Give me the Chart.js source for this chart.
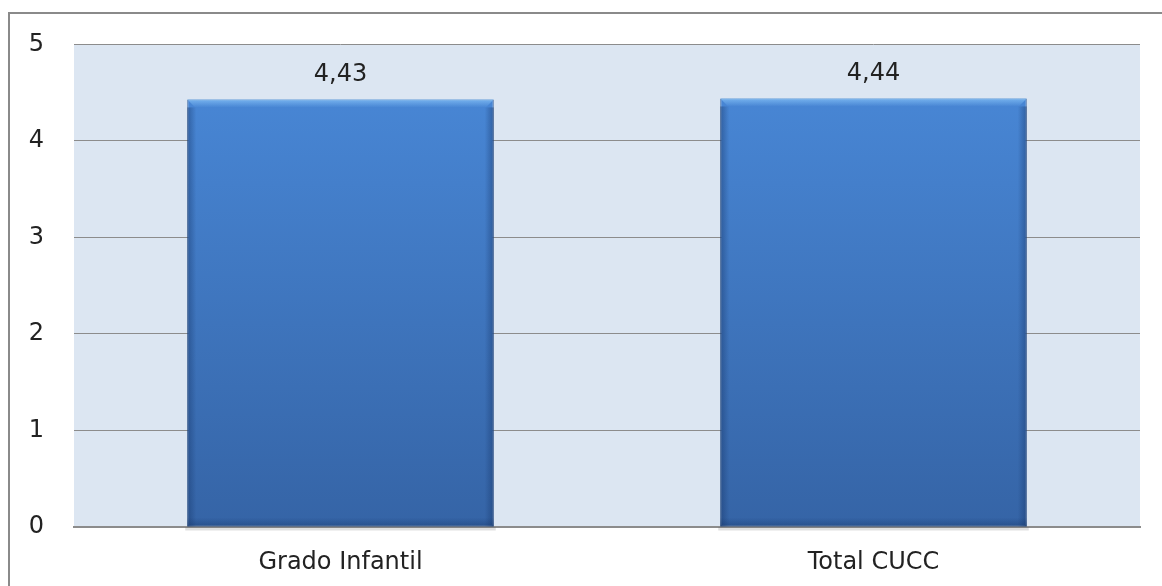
<!DOCTYPE html>
<html>
<head>
<meta charset="utf-8">
<script src="https://cdn.jsdelivr.net/npm/chart.js@4/dist/chart.umd.min.js"></script>
<style>
  html, body { margin: 0; padding: 0; background: #ffffff; }
  #wrap { width: 1162px; height: 586px; }
</style>
</head>
<body>
<div id="wrap"><canvas id="chart"></canvas></div>
<script>
// Data
const categories = ['Grado Infantil', 'Total CUCC'];
const scores = [4.43, 4.44];
const yTicks = [0, 1, 2, 3, 4, 5];

const fmt = v => v.toFixed(2).replace('.', ',');
const FONT = '"DejaVu Sans", sans-serif';

// plot area background + outer frame
const backdrop = {
    id: 'backdrop',
    beforeDraw(chart) {
        const { ctx, chartArea: a } = chart;
        ctx.save();
        ctx.fillStyle = '#dce6f2';
        ctx.fillRect(a.left, a.top, a.right - a.left, a.bottom - a.top);
        ctx.strokeStyle = '#8a8a8a';
        ctx.lineWidth = 2;
        ctx.beginPath();
        ctx.moveTo(9, chart.height);
        ctx.lineTo(9, 13);
        ctx.lineTo(chart.width, 13);
        ctx.stroke();
        ctx.restore();
    }
};

// value labels above bars
const valueLabels = {
    id: 'valueLabels',
    afterDatasetsDraw(chart) {
        const { ctx } = chart;
        const meta = chart.getDatasetMeta(0);
        ctx.save();
        ctx.font = '24px ' + FONT;
        ctx.fillStyle = '#222222';
        ctx.textAlign = 'center';
        ctx.textBaseline = 'alphabetic';
        meta.data.forEach((bar, i) => {
            ctx.fillText(fmt(scores[i]), bar.x, bar.y - 18);
        });
        ctx.restore();
    }
};

// little bevel on the bars
const bevel = {
    id: 'bevel',
    afterDatasetsDraw(chart) {
        const { ctx } = chart;
        const meta = chart.getDatasetMeta(0);
        ctx.save();
        meta.data.forEach(bar => {
            const l = bar.x - bar.width / 2, r = bar.x + bar.width / 2;
            const t = bar.y, b = bar.base;
            // top highlight
            const gt = ctx.createLinearGradient(0, t, 0, t + 8);
            gt.addColorStop(0, 'rgba(130,190,245,0.8)');
            gt.addColorStop(1, 'rgba(130,190,245,0)');
            ctx.fillStyle = gt;
            ctx.beginPath();
            ctx.moveTo(l, t); ctx.lineTo(r, t); ctx.lineTo(r - 8, t + 8); ctx.lineTo(l + 8, t + 8);
            ctx.closePath(); ctx.fill();
            // side shading
            const side = (x0, x1) => {
                const g = ctx.createLinearGradient(x0, 0, x1, 0);
                g.addColorStop(0, 'rgba(20,50,100,0.45)');
                g.addColorStop(1, 'rgba(20,50,100,0)');
                return g;
            };
            ctx.fillStyle = side(l, l + 9);
            ctx.fillRect(l, t + 8, 9, b - t - 8);
            ctx.fillStyle = side(r, r - 9);
            ctx.fillRect(r - 9, t + 8, 9, b - t - 8);
            const gb = ctx.createLinearGradient(0, b, 0, b - 9);
            gb.addColorStop(0, 'rgba(20,50,100,0.4)');
            gb.addColorStop(1, 'rgba(20,50,100,0)');
            ctx.fillStyle = gb;
            ctx.fillRect(l, b - 9, r - l, 9);
            // soft shadow below the axis
            ctx.fillStyle = 'rgba(0,0,0,0.12)';
            ctx.fillRect(l - 2, b + 1, r - l + 4, 3);
        });
        ctx.restore();
    }
};

const ctx = document.getElementById('chart').getContext('2d');
new Chart(ctx, {
    type: 'bar',
    data: {
        labels: categories,
        datasets: [{
            data: scores,
            backgroundColor: (c) => {
                const area = c.chart.chartArea;
                if (!area) return '#3f7cc8';
                const g = c.chart.ctx.createLinearGradient(0, area.top, 0, area.bottom);
                g.addColorStop(0, '#4a8ada');
                g.addColorStop(1, '#3564a6');
                return g;
            },
            borderColor: '#2d5a98',
            borderWidth: 1,
            borderSkipped: false,
            categoryPercentage: 1,
            barPercentage: 0.575
        }]
    },
    options: {
        responsive: true,
        maintainAspectRatio: false,
        animation: false,
        layout: { padding: { left: 9, right: 22, top: 43, bottom: 0 } },
        plugins: {
            legend: { display: false },
            tooltip: { enabled: false }
        },
        scales: {
            x: {
                grid: { display: false, drawTicks: false },
                border: { display: true, color: '#8c8c8c', width: 2 },
                ticks: {
                    color: '#222222',
                    font: { family: FONT, size: 24 },
                    padding: 21
                },
                afterFit: s => { s.height = 59; }
            },
            y: {
                min: 0,
                max: 5,
                afterBuildTicks: s => { s.ticks = yTicks.map(v => ({ value: v })); },
                grid: { color: '#8c8c8c', lineWidth: 1, drawTicks: false },
                border: { display: false },
                ticks: {
                    color: '#222222',
                    font: { family: FONT, size: 24 },
                    padding: 30
                },
                afterFit: s => { s.width = 65; }
            }
        }
    },
    plugins: [backdrop, bevel, valueLabels]
});
</script>
</body>
</html>
